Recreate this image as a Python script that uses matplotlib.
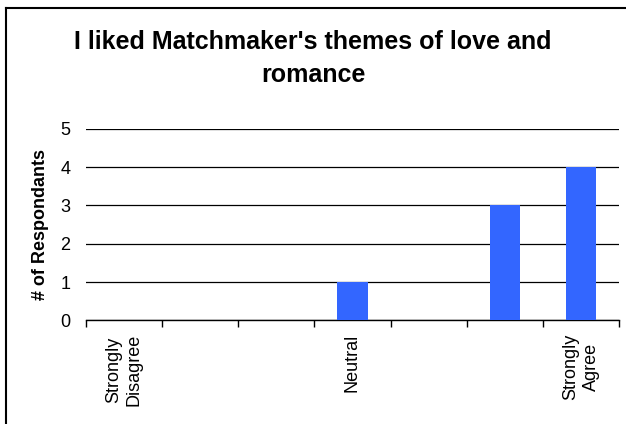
# Survey responses: "I liked Matchmaker's themes of love and romance"

import matplotlib
matplotlib.use("Agg")
import matplotlib.pyplot as plt
from matplotlib.lines import Line2D

categories = ["Strongly\nDisagree", "", "", "Neutral", "", "", "Strongly\nAgree"]
responses = [0, 0, 0, 1, 0, 3, 4]
y_ticks = [0, 1, 2, 3, 4, 5]

TITLE = "I liked Matchmaker's themes of love and\nromance"
Y_LABEL = "# of Respondants"
BAR_COLOR = "#3366FF"

plt.rcParams["font.family"] = ["Liberation Sans", "DejaVu Sans"]


def plot_responses():
    fig = plt.figure(figsize=(6.26, 4.24), dpi=100)
    ax = fig.add_axes([0.137, 0.2446, 0.852, 0.4514])

    positions = list(range(len(categories)))
    ax.bar(positions, responses, width=0.4, color=BAR_COLOR, zorder=3)

    ax.set_xlim(-0.5, len(categories) - 0.5)
    ax.set_ylim(0, 5)
    ax.set_yticks(y_ticks)
    ax.yaxis.grid(True, color="black", linewidth=0.9, zorder=1)
    ax.set_axisbelow(True)

    # category labels in the middle, tick marks on the boundaries
    ax.set_xticks(positions)
    ax.set_xticklabels(categories, rotation=90, ha="center", va="top",
                       multialignment="center", fontsize=13, linespacing=1.3)
    ax.set_xticks([p - 0.5 for p in positions] + [len(categories) - 0.5],
                  minor=True)
    ax.tick_params(axis="x", which="major", length=0, pad=10)
    ax.tick_params(axis="x", which="minor", length=5, width=1,
                   color="black", direction="out")
    ax.tick_params(axis="y", length=0, pad=11, labelsize=13)

    for side in ["left", "right", "top"]:
        ax.spines[side].set_visible(False)
    ax.spines["bottom"].set_color("black")
    ax.spines["bottom"].set_linewidth(1)

    ax.set_ylabel(Y_LABEL, fontsize=13, fontweight="bold", labelpad=8)

    fig.text(0.5, 0.862, TITLE, ha="center", va="center", fontsize=18,
             fontweight="bold", linespacing=1.45)

    # chart area border (cut off at right and bottom)
    fig.add_artist(Line2D([0.0096, 0.0096], [0, 0.981], color="black",
                          linewidth=1.5, transform=fig.transFigure))
    fig.add_artist(Line2D([0.0096, 1], [0.981, 0.981], color="black",
                          linewidth=1.5, transform=fig.transFigure))

    fig.savefig("out.png", dpi=100)


plot_responses()
